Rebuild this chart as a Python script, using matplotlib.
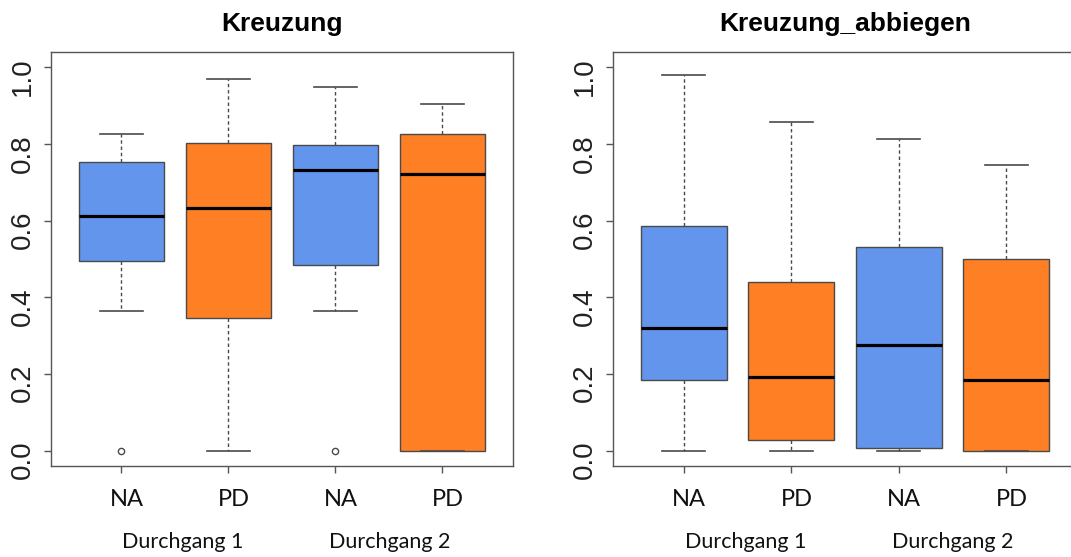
import matplotlib
matplotlib.use("Agg")
import matplotlib.pyplot as plt

plt.rcParams['font.family'] = ['Liberation Sans', 'DejaVu Sans']

# Gruppen
gruppen = ["NA", "PD", "NA", "PD"]
durchgaenge = ["Durchgang 1", "Durchgang 2"]
farben = ["#6495ED", "#FF7F24", "#6495ED", "#FF7F24"]

# Kreuzung
kr_whislo = [0.364, 0.0, 0.364, 0.0]
kr_q1 = [0.496, 0.347, 0.484, 0.0]
kr_med = [0.613, 0.633, 0.731, 0.722]
kr_q3 = [0.752, 0.802, 0.797, 0.827]
kr_whishi = [0.826, 0.969, 0.950, 0.905]
kr_fliers = [[0.0], [], [0.0], []]

# Kreuzung_abbiegen
ab_whislo = [0.0, 0.0, 0.0, 0.0]
ab_q1 = [0.185, 0.029, 0.007, 0.0]
ab_med = [0.320, 0.191, 0.276, 0.184]
ab_q3 = [0.587, 0.439, 0.530, 0.501]
ab_whishi = [0.981, 0.858, 0.812, 0.746]
ab_fliers = [[], [], [], []]


def statistik(whislo, q1, med, q3, whishi, fliers):
    stats = []
    for i in range(len(med)):
        stats.append(dict(whislo=whislo[i], q1=q1[i], med=med[i], q3=q3[i],
                          whishi=whishi[i], fliers=fliers[i]))
    return stats


def zeichne(ax, stats, titel):
    grau = "#4a4a4a"
    pos = [1, 2, 3, 4]
    bp = ax.bxp(stats, positions=pos, widths=0.8, patch_artist=True,
                boxprops=dict(edgecolor=grau, linewidth=1.0),
                medianprops=dict(color="black", linewidth=2.3, solid_capstyle="butt"),
                whiskerprops=dict(color=grau, linewidth=1.0, linestyle=(0, (2.5, 2))),
                capprops=dict(color=grau, linewidth=1.2),
                capwidths=0.4,
                flierprops=dict(marker="o", markersize=4.5, markerfacecolor="none",
                                markeredgecolor=grau, markeredgewidth=1.0))
    for box, f in zip(bp["boxes"], farben):
        box.set_facecolor(f)

    ax.set_xlim(0.34, 4.66)
    ax.set_ylim(-0.04, 1.04)
    ax.set_yticks([0.0, 0.2, 0.4, 0.6, 0.8, 1.0])
    ax.set_yticklabels(["0.0", "0.2", "0.4", "0.6", "0.8", "1.0"],
                       fontfamily="Liberation Sans", fontsize=20)
    ax.set_xticks(pos)
    ax.set_xticklabels([""] * 4)
    ax.tick_params(axis="both", direction="out", length=5, width=1, color="#555555")
    ax.tick_params(axis="y", labelrotation=90, pad=6, labelcolor="#222222")
    for s in ax.spines.values():
        s.set_color("#555555")
        s.set_linewidth(1.0)

    ax.set_title(titel, fontsize=19, fontweight="bold", fontfamily="Liberation Sans", pad=15)

    tr = ax.get_xaxis_transform()
    for p, g in zip(pos, gruppen):
        ax.text(p + 0.05, -0.08, g, transform=tr, ha="center", va="center",
                fontsize=17, family="Lato", color="#111111")
    for x, d in zip([1.575, 3.506], durchgaenge):
        ax.text(x, -0.183, d, transform=tr, ha="center", va="center",
                fontsize=15.5, family="Lato", color="#111111")


fig = plt.figure(figsize=(10.71, 5.57), dpi=100)
ax1 = fig.add_axes([50.7 / 1071, 1 - 466 / 557, 462.3 / 1071, 414 / 557])
ax2 = fig.add_axes([613 / 1071, 1 - 466 / 557, 464 / 1071, 414 / 557])

zeichne(ax1, statistik(kr_whislo, kr_q1, kr_med, kr_q3, kr_whishi, kr_fliers), "Kreuzung")
zeichne(ax2, statistik(ab_whislo, ab_q1, ab_med, ab_q3, ab_whishi, ab_fliers), "Kreuzung_abbiegen")

fig.savefig("out.png", dpi=100)
